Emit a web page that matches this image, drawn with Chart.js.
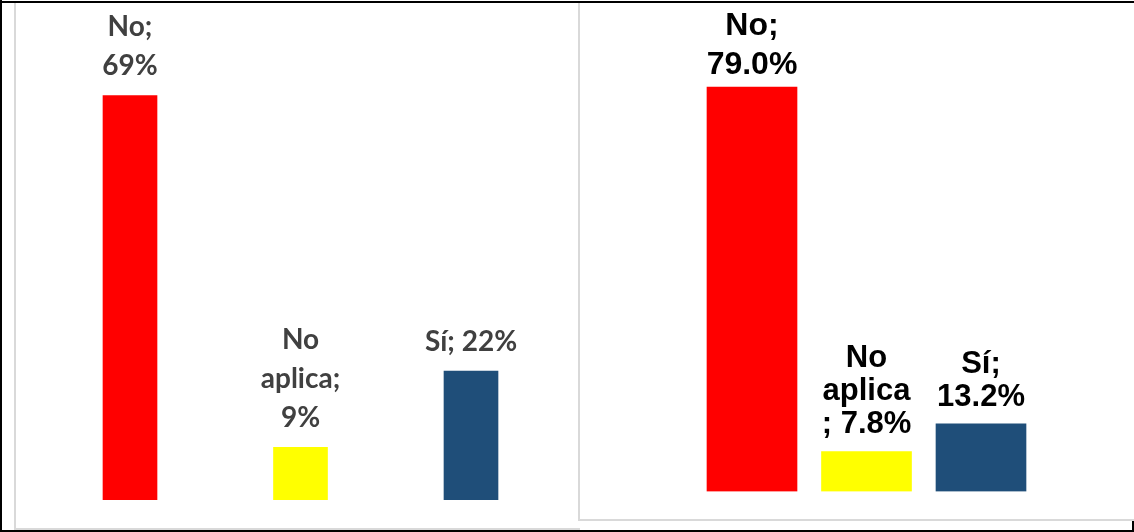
<!DOCTYPE html>
<html>
<head>
<meta charset="utf-8">
<script src="https://cdn.jsdelivr.net/npm/chart.js@4.4.1/dist/chart.umd.min.js"></script>
<style>
  html, body { margin: 0; padding: 0; background: #fff; }
  body { width: 1134px; height: 532px; position: relative; overflow: hidden; }
  .ln { position: absolute; }
  .blk { background: #000; }
  .gry { background: #d9d9d9; }
  .box { position: absolute; }
</style>
</head>
<body>
<!-- outer black frame -->
<div class="ln blk" style="left:0;top:1px;width:1134px;height:2px"></div>
<div class="ln blk" style="left:0;top:0;width:2px;height:532px"></div>
<div class="ln blk" style="left:0;top:530px;width:1134px;height:2px"></div>
<div class="ln blk" style="left:1132px;top:520px;width:2px;height:12px"></div>
<!-- left panel frame -->
<div class="ln gry" style="left:14px;top:3px;width:2px;height:527px"></div>
<div class="ln gry" style="left:14px;top:528px;width:566px;height:2px"></div>
<!-- right panel frame -->
<div class="ln gry" style="left:578px;top:3px;width:2px;height:518px"></div>
<div class="ln gry" style="left:578px;top:519px;width:556px;height:2px"></div>

<div class="box" style="left:16px;top:3px;width:562px;height:525px"><canvas id="c1" width="562" height="525"></canvas></div>
<div class="box" style="left:581px;top:3px;width:551px;height:516px"><canvas id="c2" width="551" height="516"></canvas></div>

<script>
// ---- data ----
const categories = ["No", "No aplica", "Sí"];
const leftValues = [69, 9, 22];
const rightValues = [79.0, 7.8, 13.2];
// label line templates ({v} = formatted value)
const leftLabelTemplates = [["No;", "{v}%"], ["No", "aplica;", "{v}%"], ["Sí; {v}%"]];
const rightLabelTemplates = [["No;", "{v}%"], ["No", "aplica", "; {v}%"], ["Sí;", "{v}%"]];
const barColors = ["#FF0000", "#FFFF00", "#1F4E79"];

function buildLines(templates, values, fmt) {
  return templates.map((t, i) => t.map(s => s.replace("{v}", fmt(values[i]))));
}
const leftLines = buildLines(leftLabelTemplates, leftValues, v => String(v));
const rightLines = buildLines(rightLabelTemplates, rightValues, v => v.toFixed(1));

const labelPlugin = {
  id: 'barLabels',
  afterDatasetsDraw(chart, args, opts) {
    const ctx = chart.ctx;
    const meta = chart.getDatasetMeta(0);
    meta.data.forEach((bar, i) => {
      const ov = (opts.overrides && opts.overrides[i]) || {};
      const size = ov.size || opts.size;
      const lh = ov.lineHeight || opts.lineHeight;
      const gap = ov.gap != null ? ov.gap : opts.gap;
      const lines = opts.lines[i];
      ctx.save();
      ctx.font = 'bold ' + size + 'px ' + opts.family;
      ctx.fillStyle = opts.color;
      ctx.textAlign = 'center';
      ctx.textBaseline = 'alphabetic';
      const last = bar.y - gap;
      const n = lines.length;
      lines.forEach((s, k) => {
        ctx.fillText(s, bar.x, last - (n - 1 - k) * lh);
      });
      ctx.restore();
    });
  }
};

function makeChart(id, values, cfg) {
  return new Chart(document.getElementById(id), {
    type: 'bar',
    data: {
      labels: categories,
      datasets: [{
        data: values,
        backgroundColor: barColors,
        borderWidth: 0,
        barThickness: cfg.thickness
      }]
    },
    options: {
      responsive: false,
      animation: false,
      events: [],
      layout: { padding: cfg.padding },
      scales: {
        x: { display: false, grid: { display: false } },
        y: { display: false, min: 0, max: cfg.max, grid: { display: false } }
      },
      plugins: {
        legend: { display: false },
        tooltip: { enabled: false },
        barLabels: cfg.labels
      }
    },
    plugins: [labelPlugin]
  });
}

makeChart('c1', leftValues, {
  thickness: 54,
  max: 80,
  padding: { left: 28.75, right: 21.75, top: 28, bottom: 28 },
  labels: {
    lines: leftLines, family: 'Lato, "Open Sans", sans-serif', size: 28,
    color: '#404040', lineHeight: 39, gap: 20
  }
});

makeChart('c2', rightValues, {
  thickness: 90,
  max: 90,
  padding: { left: 113.75, right: 93.75, top: 27.7, bottom: 27.5 },
  labels: {
    lines: rightLines, family: '"Liberation Sans", Arial, sans-serif', size: 31,
    color: '#000000', lineHeight: 33, gap: 19,
    overrides: { 0: { lineHeight: 39, gap: 13, size: 32 }, 2: { gap: 18 } }
  }
});
</script>
</body>
</html>
